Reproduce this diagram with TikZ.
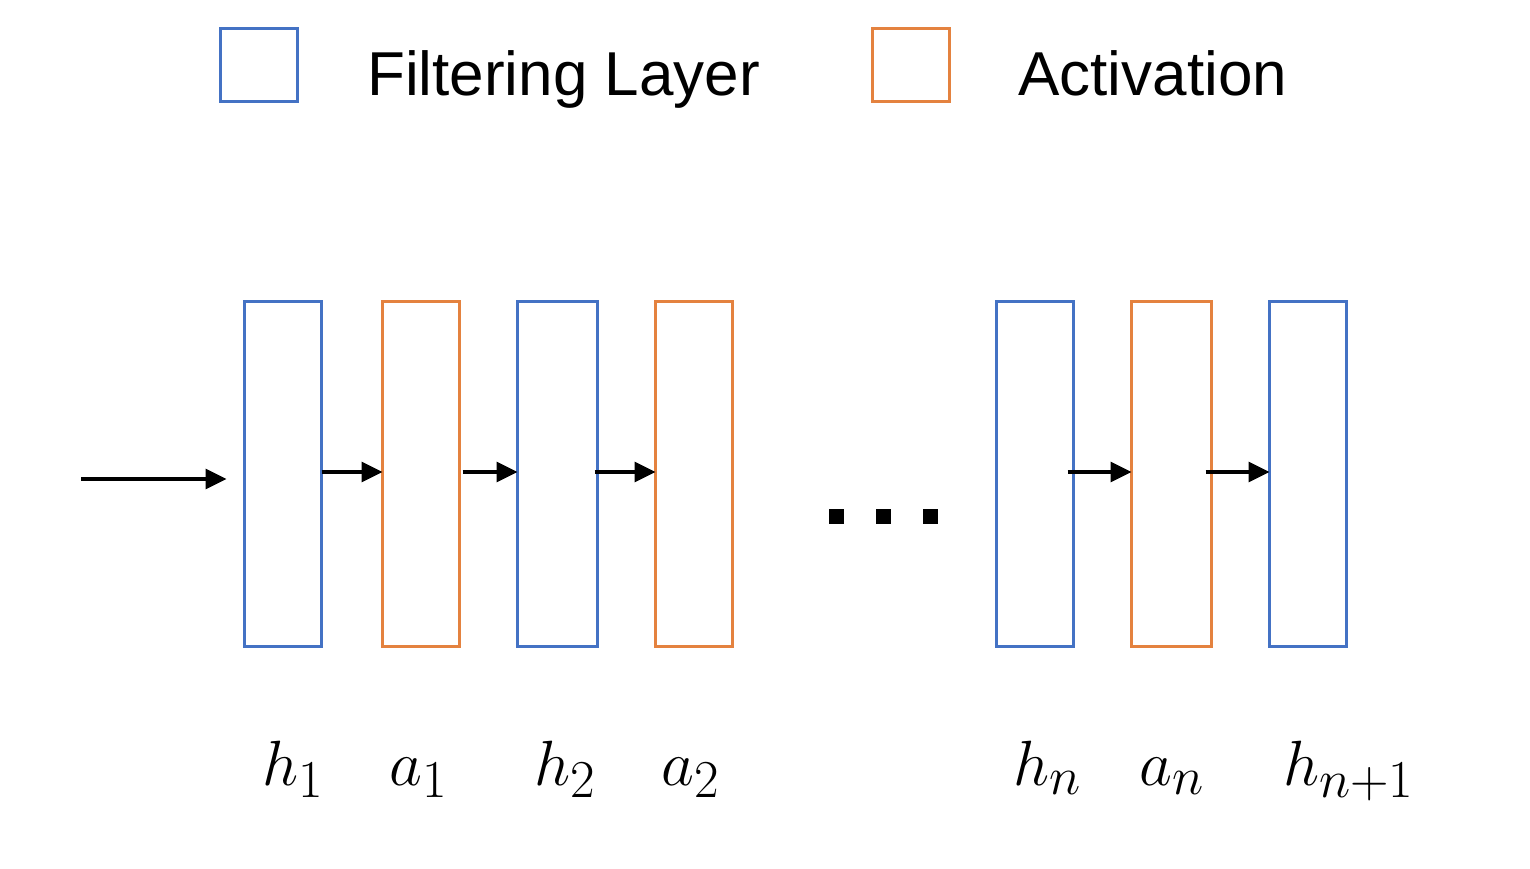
\documentclass[tikz,border=0pt]{standalone}
\usepackage[no-math]{fontspec}
\setmainfont{Liberation Sans}
\usetikzlibrary{arrows.meta}
\definecolor{fblue}{HTML}{4472C4}
\definecolor{forange}{HTML}{E4823F}
\newcommand\biglab[1]{\scalebox{2.57}{\Huge$#1$}}
\tikzset{
  layerbox/.style={draw=fblue, line width=3pt, minimum width=77pt, minimum height=345pt, inner sep=0pt, outer sep=0pt},
  actbox/.style={layerbox, draw=forange},
  widebox/.style={minimum width=80pt},
  legbox/.style={line width=3pt, minimum width=77pt, minimum height=73pt, inner sep=0pt, outer sep=0pt},
  legtext/.style={anchor=base west, inner sep=0pt, font=\fontsize{62}{70}\selectfont},
  arr/.style={line width=3.2pt, -{Triangle[length=21pt,width=20pt]}},
  lab/.style={anchor=base west, inner sep=0pt},
  dot/.style={fill=black, minimum size=15pt, inner sep=0pt}
}
\begin{document}
\begin{tikzpicture}[x=1pt,y=-1pt]
\useasboundingbox[fill=white] (0,0) rectangle (1530,868);
% legend
\node[legbox, draw=fblue] (lb) at (259,65) {};
\node[legtext] (lt) at (367,95) {Filtering Layer};
\node[legbox, draw=forange] (lo) at (911,65) {};
\node[legtext] (ltb) at (1018,95) {Activation};
% layers
\node[layerbox] (h1) at (283,474) {};
\node[actbox] (a1) at (421,474) {};
\node[layerbox, widebox] (h2) at (557.5,474) {};
\node[actbox] (a2) at (694,474) {};
\node[layerbox] (hn) at (1035,474) {};
\node[actbox, widebox] (an) at (1171.5,474) {};
\node[layerbox] (hm) at (1308,474) {};
% dots
\node[dot] (d1) at (836,516) {};
\node[dot] (d2) at (883,516) {};
\node[dot] (d3) at (930,516) {};
% arrows
\coordinate (in) at (81,479);
\draw[arr] (in) -- ([xshift=-18pt,yshift=-5pt]h1.west);
\draw[arr] ([yshift=2pt]h1.east) -- ([yshift=2pt]a1.west);
\draw[arr] ([xshift=3pt,yshift=2pt]a1.east) -- ([yshift=2pt]h2.west);
\draw[arr] ([xshift=-3pt,yshift=2pt]h2.east) -- ([yshift=2pt]a2.west);
\draw[arr] ([xshift=-6pt,yshift=2pt]hn.east) -- ([yshift=2pt]an.west);
\draw[arr] ([xshift=-6pt,yshift=2pt]an.east) -- ([yshift=2pt]hm.west);
% labels
\node[lab] (lh1) at (262,785) {\biglab{h_1}};
\node[lab] (la1) at (389,785) {\biglab{a_1}};
\node[lab] (lh2) at (534,785) {\biglab{h_2}};
\node[lab] (la2) at (661,785) {\biglab{a_2}};
\node[lab] (lhn) at (1013,785) {\biglab{h_n}};
\node[lab] (lan) at (1139,785) {\biglab{a_n}};
\node[lab] (lhm) at (1283,785) {\biglab{h_{n+1}}};
\end{tikzpicture}
\end{document}
